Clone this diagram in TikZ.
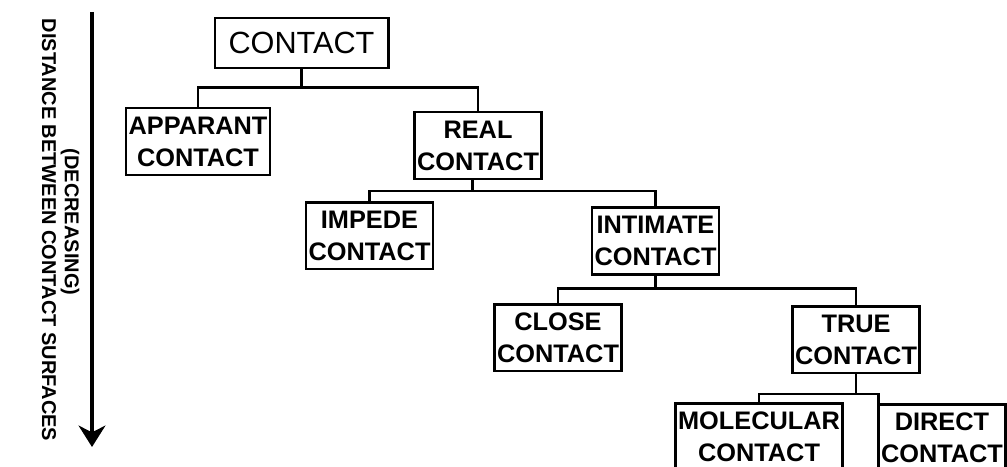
\documentclass[tikz,border=0pt]{standalone}
\usepackage{fontspec}
\setmainfont{Liberation Sans}
\usetikzlibrary{arrows.meta}

\begin{document}
\begin{tikzpicture}[x=0.75pt,y=-0.75pt,
    box/.style={draw,line width=2pt,align=center,inner xsep=2pt,inner ysep=1pt,
      minimum height=50pt,font=\fontsize{19}{24}\selectfont\bfseries},
    topbox/.style={draw,line width=2pt,minimum width=130pt,minimum height=37.5pt,
      inner sep=1pt,font=\fontsize{23}{27}\selectfont},
    side/.style={rotate=-90,inner sep=0pt,font=\fontsize{15}{18}\selectfont\bfseries},
    link/.style={line width=1.8pt},
    arr/.style={-{Stealth[length=16pt,width=20pt,inset=5pt]},line width=3pt}]
    \clip (0,0) rectangle (1007,467);
    % axis on the left
    \coordinate (near) at (92,12);
    \coordinate (far) at (92,447);
    \draw[arr] (near) -- (far);
    \node[side] (dist) at (49,230) {DISTANCE BETWEEN CONTACT SURFACES};
    \node[side] (decr) at (70,222) {(DECREASING)};
    % the tree
    \node[topbox] (contact) at (301.5,43) {CONTACT};
    \node[box] (apparant) at (198,141.5) {APPARANT\\CONTACT};
    \node[box] (real) at (478,145.5) {REAL\\CONTACT};
    \node[box] (impede) at (369.5,235.5) {IMPEDE\\CONTACT};
    \node[box] (intimate) at (655.5,241) {INTIMATE\\CONTACT};
    \node[box] (close) at (558,337.5) {CLOSE\\CONTACT};
    \node[box] (true) at (856,339.5) {TRUE\\CONTACT};
    \node[box] (molecular) at (759,437) {MOLECULAR\\CONTACT};
    \node[box,anchor=north west] (direct) at (877,403) {DIRECT\\CONTACT};
    \draw[link] (contact.south) -- ++(0,18) coordinate (j1);
    \draw[link] (apparant.north) |- (j1) -| (real.north);
    \draw[link] ([xshift=-4pt]real.south) -- ++(0,11) coordinate (j2);
    \draw[link] (impede.north) |- (j2) -| (intimate.north);
    \draw[link] (intimate.south) -- ++(0,13) coordinate (j3);
    \draw[link] (close.north) |- (j3) -| (true.north);
    \draw[link] (true.south) -- ++(0,20) coordinate (j4);
    \draw[link] (molecular.north) |- (j4) -| ([xshift=1pt]direct.north west);
  \end{tikzpicture}
\end{document}
